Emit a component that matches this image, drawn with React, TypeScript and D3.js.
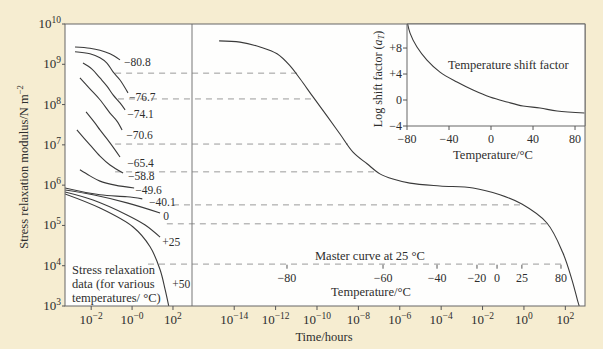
import React from "react";
import * as d3 from "d3";

// time exponents (log10 hours) for axis ticks
const leftTicks = [-2, 0, 2];
const leftTickText = ["−2", "−0", "2"];
const rightTicks = [-14, -12, -10, -8, -6, -4, -2, 0, 2];
const modTicks = [3, 4, 5, 6, 7, 8, 9, 10];

// stress relaxation curves at various temperatures: [log t, log E]
const relaxTemps = ["−80.8", "−76.7", "−74.1", "−70.6", "−65.4", "−58.8", "−49.6", "−40.1", "0", "+25", "+50"];
const relaxCurves: [number, number][][] = [
  [[-2.79, 9.43], [-2.06, 9.4], [-1.57, 9.35], [-1.08, 9.26], [-0.59, 9.11]],
  [[-2.79, 9.31], [-2.06, 9.26], [-1.57, 9.16], [-1.23, 9.03], [-0.93, 8.81], [-0.59, 8.61], [-0.2, 8.29]],
  [[-2.4, 9.03], [-1.96, 8.88], [-1.57, 8.66], [-1.23, 8.46], [-0.93, 8.24], [-0.59, 8.04], [-0.34, 7.87]],
  [[-2.55, 8.66], [-2.06, 8.39], [-1.57, 8.12], [-1.08, 7.79], [-0.74, 7.59], [-0.49, 7.37]],
  [[-2.25, 7.82], [-1.81, 7.54], [-1.57, 7.37], [-1.08, 7.05], [-0.59, 6.7]],
  [[-2.7, 7.37], [-2.06, 7.0], [-1.57, 6.72], [-1.08, 6.5], [-0.44, 6.3]],
  [[-2.55, 6.38], [-2.06, 6.23], [-1.57, 6.1], [-0.83, 6.0], [0.1, 5.93]],
  [[-3.28, 5.93], [-1.57, 5.76], [-0.25, 5.71], [0.5, 5.66]],
  [[-3.28, 5.88], [-1.91, 5.76], [-0.25, 5.56], [1.37, 5.31]],
  [[-3.28, 5.83], [-1.91, 5.63], [-0.25, 5.26], [0.64, 5.01], [1.37, 4.71]],
  [[-3.28, 5.78], [-1.57, 5.43], [0.05, 4.96], [0.88, 4.47], [1.37, 3.9], [1.62, 3.4], [1.8, 2.98]],
];
const labelLogT = [-0.39, -0.15, -0.24, -0.29, -0.24, -0.2, 0.15, 0.83, 1.52, 1.47, 1.96];
const labelLogE = [9.06, 8.19, 7.77, 7.25, 6.56, 6.227, 5.892, 5.57, 5.24, 4.59, 3.55];

// master curve at 25 °C: [log t, log E]
const master: [number, number][] = [
  [-14.73, 9.58], [-13.72, 9.55], [-12.75, 9.43], [-11.93, 9.26], [-11.3, 8.96], [-10.82, 8.64],
  [-10.19, 8.19], [-9.52, 7.72], [-8.89, 7.27], [-8.26, 6.82], [-7.58, 6.53], [-6.96, 6.28],
  [-6.33, 6.15], [-5.51, 6.05], [-4.06, 5.98], [-2.46, 5.93], [-1.16, 5.76], [-0.1, 5.53],
  [1.11, 5.06], [1.88, 4.32], [2.32, 3.65], [2.61, 3.1], [2.68, 2.98],
];

// dashed connectors: level, start (left panel log t), end (master log t)
const dashLevel = [8.78, 8.14, 7.02, 6.33, 5.51, 5.04, 4.04];
const dashStart = [-0.83, -0.69, -0.83, -0.83, 2.0, 1.7, 0.78];
const dashEnd = [-10.85, -10.19, -8.5, -7.1, -0.05, 1.1, 1.97];

// temperature scale along master curve
const tempTicks = ["−80", "−60", "−40", "−20", "0", "25", "80"];
const tempLogT = [-11.45, -6.81, -4.2, -2.27, -1.3, -0.1, 1.79];

// inset: log shift factor vs temperature
const shiftT = [-80, -77.1, -70.5, -61, -48.6, -32.4, -17.1, -1, 15.2, 30.5, 46.7, 62.9, 89];
const shiftA = [12.2, 10.3, 8.15, 6.15, 4.3, 2.77, 1.54, 0.46, -0.3, -0.92, -1.23, -1.7, -2.0];
const insetYTicks = [8, 4, 0, -4];
const insetYText = ["+8", "+4", "0", "−4"];
const insetXTicks = [-80, -40, 0, 40, 80];

const font = "'Liberation Serif', 'DejaVu Serif', serif";
const ink = "#2e2e2e";

export default function App() {
  const left = 65, right = 585, top = 24, bottom = 306, divX = 192;
  const y = d3.scaleLog().domain([1e3, 1e10]).range([bottom, top]);
  const xL = d3.scaleLog().domain([10 ** -3.28, 10 ** 2.93]).range([left, divX]);
  const xR = d3.scaleLog().domain([10 ** -16.04, 10 ** 2.95]).range([divX, right]);

  const inset = { left: 407, right: 585, top: 24, bottom: 126 };
  const xT = d3.scaleLinear().domain([-80, 89.5]).range([inset.left, inset.right]);
  const yA = d3.scaleLinear().domain([-4, 11.7]).range([inset.bottom, inset.top]);

  const lineL = d3.line<[number, number]>()
    .x((d) => xL(10 ** d[0]))
    .y((d) => y(10 ** d[1]))
    .curve(d3.curveCatmullRom);
  const lineR = d3.line<[number, number]>()
    .x((d) => xR(10 ** d[0]))
    .y((d) => y(10 ** d[1]))
    .curve(d3.curveCatmullRom);
  const shiftLine = d3.line<number>()
    .x((d, i) => xT(shiftT[i]))
    .y((d) => yA(d))
    .curve(d3.curveCatmullRom);

  const tempY = y(1e4) - 1;

  const pow = (exp: string, x: number, yy: number, anchor: string, key: any) => (
    <text key={key} x={x} y={yy} textAnchor={anchor} fontSize={13} fill={ink}>
      10<tspan dy={-5} fontSize={9.5}>{exp}</tspan>
    </text>
  );

  return (
    <svg width={603} height={349} style={{ position: "absolute", left: 0, top: 0 }} fontFamily={font}>
      <rect width={603} height={349} fill="#f6edd1" />
      <rect x={left} y={top} width={right - left} height={bottom - top} fill="#fefefd" />
      <defs>
        <clipPath id="plotClip">
          <rect x={left} y={top} width={right - left} height={bottom - top} />
        </clipPath>
        <clipPath id="leftClip">
          <rect x={left} y={top} width={divX - left} height={bottom - top} />
        </clipPath>
        <clipPath id="insetClip">
          <rect x={inset.left} y={inset.top} width={inset.right - inset.left} height={inset.bottom - inset.top} />
        </clipPath>
      </defs>

      {/* dashed connectors */}
      {dashLevel.map((lv, i) => (
        <line key={"d" + i} x1={xL(10 ** dashStart[i])} x2={xR(10 ** dashEnd[i])}
          y1={y(10 ** lv)} y2={y(10 ** lv)} stroke="#9a9a9a" strokeWidth={1} strokeDasharray="6,5" />
      ))}

      {/* stress relaxation curves */}
      <g clipPath="url(#leftClip)">
        {relaxCurves.map((c, i) => (
          <path key={"c" + i} d={lineL(c) || ""} fill="none" stroke="#3a3a3a" strokeWidth={1.1} />
        ))}
      </g>
      {relaxTemps.map((t, i) => (
        <text key={"l" + i} x={xL(10 ** labelLogT[i])} y={y(10 ** labelLogE[i])} dy="0.35em"
          fontSize={11.5} fill={ink}>{t}</text>
      ))}

      <text x={72} y={274} fontSize={12.5} fill={ink}>Stress relaxation</text>
      <text x={72} y={288} fontSize={12.5} fill={ink}>data (for various</text>
      <text x={72} y={302} fontSize={12.5} fill={ink}>temperatures/ °C)</text>

      {/* master curve */}
      <g clipPath="url(#plotClip)">
        <path d={lineR(master) || ""} fill="none" stroke="#3a3a3a" strokeWidth={1.1} />
      </g>

      {/* temperature scale on master curve */}
      {tempTicks.map((t, i) => (
        <g key={"t" + i}>
          <line x1={xR(10 ** tempLogT[i])} x2={xR(10 ** tempLogT[i])} y1={tempY} y2={tempY + 4} stroke="#555" />
          <text x={xR(10 ** tempLogT[i])} y={tempY + 17} textAnchor="middle" fontSize={12} fill={ink}>{t}</text>
        </g>
      ))}
      <text x={315} y={260} fontSize={12.5} fill={ink}>Master curve at 25 °C</text>
      <text x={371} y={296} textAnchor="middle" fontSize={12.5} fill={ink}>Temperature/°C</text>

      {/* divider and frame */}
      <line x1={divX} x2={divX} y1={top} y2={bottom} stroke="#777" strokeWidth={1} />
      <rect x={left} y={top} width={right - left} height={bottom - top} fill="none" stroke="#666" strokeWidth={1} />

      {/* y axis */}
      {modTicks.map((e) => (
        <g key={"y" + e}>
          <line x1={left - 3} x2={left} y1={y(10 ** e)} y2={y(10 ** e)} stroke="#555" />
          {pow(String(e), left - 4, y(10 ** e) + 4, "end", "yt" + e)}
        </g>
      ))}
      <text transform={`translate(28,${(top + bottom) / 2 + 2}) rotate(-90)`} textAnchor="middle" fontSize={12.5} fill={ink}>
        Stress relaxation modulus/N m<tspan dy={-5} fontSize={8.5}>−2</tspan>
      </text>

      {/* x axis */}
      {leftTicks.map((e, i) => (
        <g key={"xl" + e}>
          <line x1={xL(10 ** e)} x2={xL(10 ** e)} y1={bottom} y2={bottom + 4} stroke="#555" />
          {pow(leftTickText[i], xL(10 ** e), bottom + 18, "middle", "xlt" + e)}
        </g>
      ))}
      {rightTicks.map((e) => (
        <g key={"xr" + e}>
          <line x1={xR(10 ** e)} x2={xR(10 ** e)} y1={bottom} y2={bottom + 4} stroke="#555" />
          {pow(e < 0 ? "−" + Math.abs(e) : String(e), xR(10 ** e), bottom + 18, "middle", "xrt" + e)}
        </g>
      ))}
      <text x={324} y={341} textAnchor="middle" fontSize={12.5} fill={ink}>Time/hours</text>

      {/* inset */}
      <rect x={inset.left} y={inset.top} width={inset.right - inset.left} height={inset.bottom - inset.top} fill="#fefefd" />
      <g clipPath="url(#insetClip)">
        <path d={shiftLine(shiftA) || ""} fill="none" stroke="#3a3a3a" strokeWidth={1.1} />
      </g>
      <line x1={inset.left} x2={inset.left} y1={inset.top} y2={inset.bottom} stroke="#666" />
      <line x1={inset.left} x2={inset.right} y1={inset.bottom} y2={inset.bottom} stroke="#666" />
      <line x1={inset.left} x2={inset.right} y1={inset.top} y2={inset.top} stroke="#666" />
      <line x1={inset.right} x2={inset.right} y1={inset.top} y2={inset.bottom} stroke="#666" />
      {insetYTicks.map((v, i) => (
        <g key={"iy" + v}>
          <line x1={inset.left - 4} x2={inset.left} y1={yA(v)} y2={yA(v)} stroke="#555" />
          <text x={inset.left - 5} y={yA(v)} dy="0.35em" textAnchor="end" fontSize={12} fill={ink}>{insetYText[i]}</text>
        </g>
      ))}
      {insetXTicks.map((v) => (
        <g key={"ix" + v}>
          <line x1={xT(v)} x2={xT(v)} y1={inset.bottom} y2={inset.bottom + 4} stroke="#555" />
          <text x={xT(v)} y={inset.bottom + 17} textAnchor="middle" fontSize={12} fill={ink}>{v < 0 ? "−" + Math.abs(v) : v}</text>
        </g>
      ))}
      <text x={493} y={159} textAnchor="middle" fontSize={12.5} fill={ink}>Temperature/°C</text>
      <text x={448} y={69} fontSize={12.5} fill={ink}>Temperature shift factor</text>
      <text transform={`translate(382,${(inset.top + inset.bottom) / 2 + 4}) rotate(-90)`} textAnchor="middle" fontSize={12} fill={ink}>
        Log shift factor (<tspan fontStyle="italic">a</tspan><tspan fontStyle="italic" fontSize={8.5} dy={2}>T</tspan><tspan dy={-2}>)</tspan>
      </text>
    </svg>
  );
}
